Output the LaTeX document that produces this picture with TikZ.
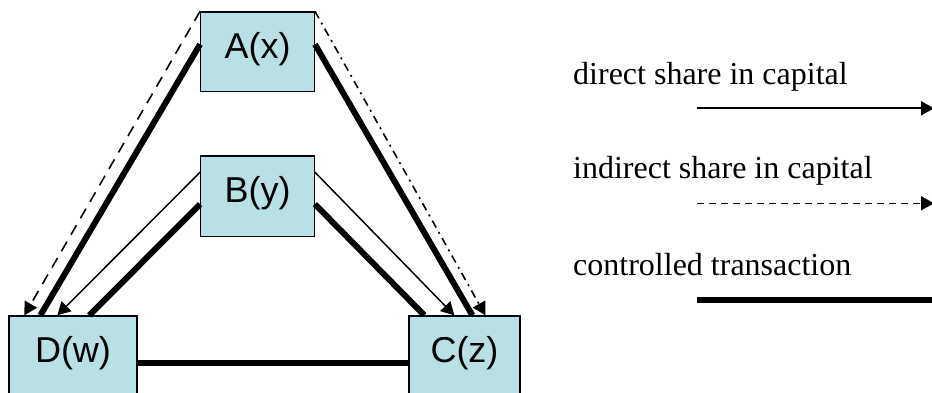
\documentclass[tikz,border=0pt]{standalone}
\usepackage{fontspec}
\setmainfont{Liberation Serif}
\newfontfamily\boxfont{Liberation Sans}
\usetikzlibrary{arrows.meta}
\definecolor{boxfill}{RGB}{185,224,228}
\begin{document}
\begin{tikzpicture}[x=1pt,y=-1pt,
  ent/.style={draw=black, line width=1.3pt, fill=boxfill, inner sep=0pt,
    font=\boxfont\fontsize{36}{36}\selectfont, text height=25pt, text depth=12pt},
  tip/.style={-{Triangle[length=13pt,width=14pt]}},
  ctrl/.style={line width=6pt},
  direct/.style={line width=1.5pt, tip},
  indirect/.style={line width=1.6pt, dash pattern=on 11pt off 8pt, tip},
  indirectdd/.style={line width=1.6pt, dash pattern=on 8pt off 5pt on 2pt off 5pt, tip},
  legtext/.style={anchor=base west, inner sep=0pt, font=\fontsize{32}{32}\selectfont}
]
\useasboundingbox (0,0) rectangle (932,392);

% entities
\node[ent, minimum width=113.6pt, minimum height=79.7pt] (A) at (257.5,51.8) {A(x)};
\node[ent, minimum width=113.6pt, minimum height=80.3pt] (B) at (257.5,196) {B(y)};
\node[ent, minimum width=128pt, minimum height=79pt] (D) at (73,355.5) {D(w)};
\node[ent, minimum width=111pt, minimum height=79pt] (C) at (464.5,355.5) {C(z)};

% A -> D
\draw[indirect] (A.north west) -- ([xshift=16pt]D.north west);
\draw[ctrl] ([yshift=-33pt]A.north west) -- ([xshift=32pt]D.north west);
% A -> C
\draw[ctrl] ([yshift=-33pt]A.north east) -- ([xshift=64pt]C.north west);
\draw[indirectdd] (A.north east) -- ([xshift=77pt]C.north west);
% B -> D
\draw[direct] ([yshift=-17pt]B.north west) -- ([xshift=49pt]D.north west);
\draw[ctrl] ([yshift=-49pt]B.north west) -- ([xshift=81pt]D.north west);
% B -> C
\draw[direct] ([yshift=-17pt]B.north east) -- ([xshift=46pt]C.north west);
\draw[ctrl] ([yshift=-49pt]B.north east) -- ([xshift=16pt]C.north west);
% D -- C
\draw[ctrl] ([yshift=-47.5pt]D.north east) -- ([yshift=-47.5pt]C.north west);

% legend
\node[legtext] (t1) at (573,84) {direct share in capital};
\node[legtext] (t2) at (573,178.3) {indirect share in capital};
\node[legtext] (t3) at (573,275) {controlled transaction};
\coordinate (l1s) at (697,108.3);
\coordinate (l1e) at (934,108.3);
\coordinate (l2s) at (697,203.3);
\coordinate (l2e) at (934,203.3);
\coordinate (l3s) at (697,300);
\coordinate (l3e) at (936,300);
\draw[line width=2pt, tip] (l1s) -- (l1e);
\draw[line width=1.5pt, dash pattern=on 7pt off 5pt, tip] (l2s) -- (l2e);
\draw[line width=6.5pt] (l3s) -- (l3e);
\end{tikzpicture}
\end{document}
